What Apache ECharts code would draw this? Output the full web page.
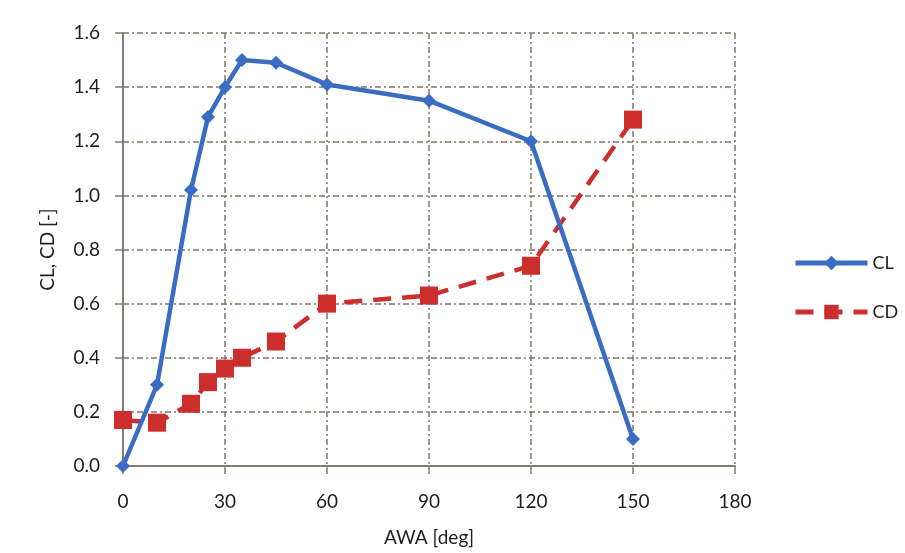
<!DOCTYPE html>
<html>
<head>
<meta charset="utf-8">
<script src="https://cdn.jsdelivr.net/npm/echarts@6/dist/echarts.min.js"></script>
<style>
  html, body { margin: 0; padding: 0; background: #ffffff; }
  #chart { width: 905px; height: 553px; }
</style>
</head>
<body>
<div id="chart"></div>
<script>
// Apparent wind angle [deg]
const awa = [0, 10, 20, 25, 30, 35, 45, 60, 90, 120, 150];
// Lift coefficient
const cl = [0.00, 0.30, 1.02, 1.29, 1.40, 1.50, 1.49, 1.41, 1.35, 1.20, 0.10];
// Drag coefficient
const cd = [0.17, 0.16, 0.23, 0.31, 0.36, 0.40, 0.46, 0.60, 0.63, 0.74, 1.28];

const xTicks = [0, 30, 60, 90, 120, 150, 180];
const yTicks = [0.0, 0.2, 0.4, 0.6, 0.8, 1.0, 1.2, 1.4, 1.6];

const pairs = (xs, ys) => xs.map((x, i) => [x, ys[i]]);

const gridColor = '#857469';
const axisColor = '#857a74';
const textStyle = { fontFamily: 'Lato', fontSize: 19, color: '#1e1e1e' };

const chart = echarts.init(document.getElementById('chart'), null, { renderer: 'canvas' });
chart.setOption({
  backgroundColor: '#ffffff',
  animation: false,
  grid: { left: 123, right: 170, top: 33, bottom: 87 },
  xAxis: {
    type: 'value',
    min: xTicks[0],
    max: xTicks[xTicks.length - 1],
    interval: 30,
    name: 'AWA [deg]',
    nameLocation: 'middle',
    nameGap: 62,
    nameTextStyle: textStyle,
    axisLine: { show: true, lineStyle: { color: axisColor, width: 2 } },
    axisTick: { show: true, length: 8, lineStyle: { color: axisColor, width: 1.5 } },
    axisLabel: Object.assign({}, textStyle, { margin: 26 }),
    splitLine: { show: true, lineStyle: { color: gridColor, width: 1.5, type: [6, 3, 2, 3] } }
  },
  yAxis: {
    type: 'value',
    min: yTicks[0],
    max: yTicks[yTicks.length - 1],
    interval: 0.2,
    name: 'CL, CD [-]',
    nameLocation: 'middle',
    nameGap: 66,
    nameRotate: 90,
    nameTextStyle: textStyle,
    axisLine: { show: true, lineStyle: { color: axisColor, width: 2 } },
    axisTick: { show: true, length: 8, lineStyle: { color: axisColor, width: 1.5 } },
    axisLabel: Object.assign({}, textStyle, { margin: 23, formatter: v => v.toFixed(1) }),
    splitLine: { show: true, lineStyle: { color: gridColor, width: 1.5, type: [6, 3, 2, 3] } }
  },
  legend: {
    orient: 'vertical',
    left: 788,
    top: 249,
    itemGap: 31,
    itemWidth: 72,
    itemHeight: 18,
    lineStyle: { width: 5 },
    textStyle: Object.assign({}, textStyle, { fontSize: 18 }),
    data: ['CL', 'CD']
  },
  series: [
    {
      name: 'CL',
      type: 'line',
      data: pairs(awa, cl),
      symbol: 'diamond',
      symbolSize: 14,
      itemStyle: { color: '#3b6cc3' },
      lineStyle: { color: '#3b6cc3', width: 4.5 },
      z: 3
    },
    {
      name: 'CD',
      type: 'line',
      data: pairs(awa, cd),
      symbol: 'rect',
      symbolSize: 18,
      itemStyle: { color: '#cc2d2d' },
      lineStyle: { color: '#cc2d2d', width: 4.5, type: [18, 11] },
      z: 2
    }
  ]
});
</script>
</body>
</html>
